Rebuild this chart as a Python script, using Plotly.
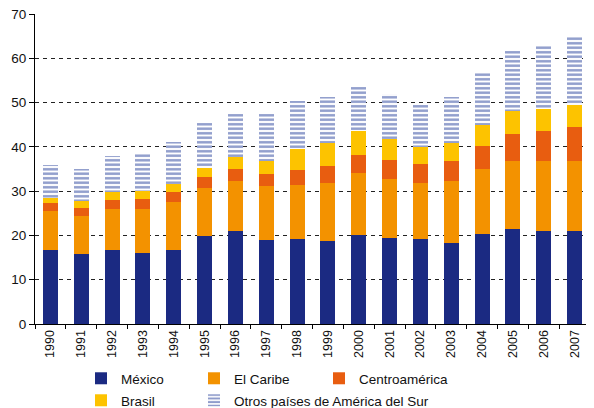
import plotly.graph_objects as go

years = [str(y) for y in range(1990, 2008)]
# cumulative tops
mexico_top  = [16.8, 15.7, 16.8, 16.1, 16.8, 19.9, 21.1, 19.0, 19.1, 18.7, 20.2, 19.5, 19.2, 18.3, 20.3, 21.5, 21.1, 21.1]
caribe_top  = [25.6, 24.4, 25.9, 26.0, 27.5, 30.8, 32.3, 31.1, 31.5, 31.9, 34.1, 32.7, 31.8, 32.3, 34.9, 36.7, 36.7, 36.8]
centro_top  = [27.4, 26.3, 28.1, 28.3, 29.7, 33.2, 34.9, 33.9, 34.7, 35.6, 38.2, 37.0, 36.2, 36.7, 40.2, 42.8, 43.5, 44.4]
brasil_top  = [28.5, 27.7, 29.8, 30.0, 31.7, 35.3, 37.6, 36.8, 39.5, 40.8, 43.5, 41.8, 40.0, 40.9, 45.0, 48.1, 48.6, 49.5]
otros_top   = [35.9, 34.9, 37.9, 38.7, 41.1, 45.3, 47.4, 47.4, 50.4, 51.2, 53.5, 52.0, 49.4, 51.3, 56.7, 61.6, 62.7, 64.7]

mexico = mexico_top
caribe = [round(b - a, 2) for a, b in zip(mexico_top, caribe_top)]
centro = [round(b - a, 2) for a, b in zip(caribe_top, centro_top)]
brasil = [round(b - a, 2) for a, b in zip(centro_top, brasil_top)]
otros  = [round(b - a, 2) for a, b in zip(brasil_top, otros_top)]

names = ["México", "El Caribe", "Centroamérica", "Brasil", "Otros países de América del Sur"]
colors = ["#1b2a82", "#f39200", "#e85d10", "#fdc300", "#1f3a98"]
legend_ids = ["legend", "legend2", "legend3", "legend4", "legend5"]

fig = go.Figure()
series = [mexico, caribe, centro, brasil]
for i, (nm, vals, c) in enumerate(zip(names[:4], series, colors[:4])):
    fig.add_trace(go.Bar(
        x=years, y=vals, name=nm,
        marker=dict(color=c, line=dict(width=0)),
        legend=legend_ids[i],
    ))
fig.add_trace(go.Bar(
    x=years, y=otros, name=names[4],
    marker=dict(color="white", line=dict(width=0),
                pattern=dict(shape="-", fgcolor=colors[4], bgcolor="white",
                             size=4.5, solidity=0.55)),
    legend=legend_ids[4],
))

font_family = "Liberation Sans, Arial, sans-serif"
leg_common = dict(xref="container", yref="container",
                  xanchor="left", yanchor="top",
                  font=dict(size=13.5, color="#111"), itemwidth=30,
                  bgcolor="rgba(0,0,0,0)")
W, H = 586, 400
row1_top, row2_top = 355, 377
col_x = [73, 186, 311]
fig.update_layout(
    barmode="stack",
    bargap=0.51,
    width=W, height=H,
    margin=dict(l=27, r=4, t=6, b=84, autoexpand=False),
    plot_bgcolor="white", paper_bgcolor="white",
    font=dict(family=font_family, size=13, color="#222"),
    legend=dict(x=col_x[0] / W, y=1 - row1_top / H, **leg_common),
    legend2=dict(x=col_x[1] / W, y=1 - row1_top / H, **leg_common),
    legend3=dict(x=col_x[2] / W, y=1 - row1_top / H, **leg_common),
    legend4=dict(x=col_x[0] / W, y=1 - row2_top / H, **leg_common),
    legend5=dict(x=col_x[1] / W, y=1 - row2_top / H, **leg_common),
    showlegend=True,
)
fig.update_xaxes(
    showline=True, linecolor="black", linewidth=1.2,
    ticks="outside", ticklen=4, tickcolor="black", tickson="boundaries",
    tickangle=-90, tickfont=dict(size=12.5, color="#111"),
    showgrid=False, automargin=False,
)
fig.update_yaxes(
    range=[0, 70], dtick=10,
    showline=True, linecolor="black", linewidth=1.2,
    ticks="outside", ticklen=5, tickcolor="black",
    showgrid=True, gridcolor="#222", gridwidth=1, griddash="4px,4px",
    zeroline=False, tickfont=dict(size=13.5, color="#111"), automargin=False,
    ticklabeloverflow="allow",
)
fig.write_html("out.html")
